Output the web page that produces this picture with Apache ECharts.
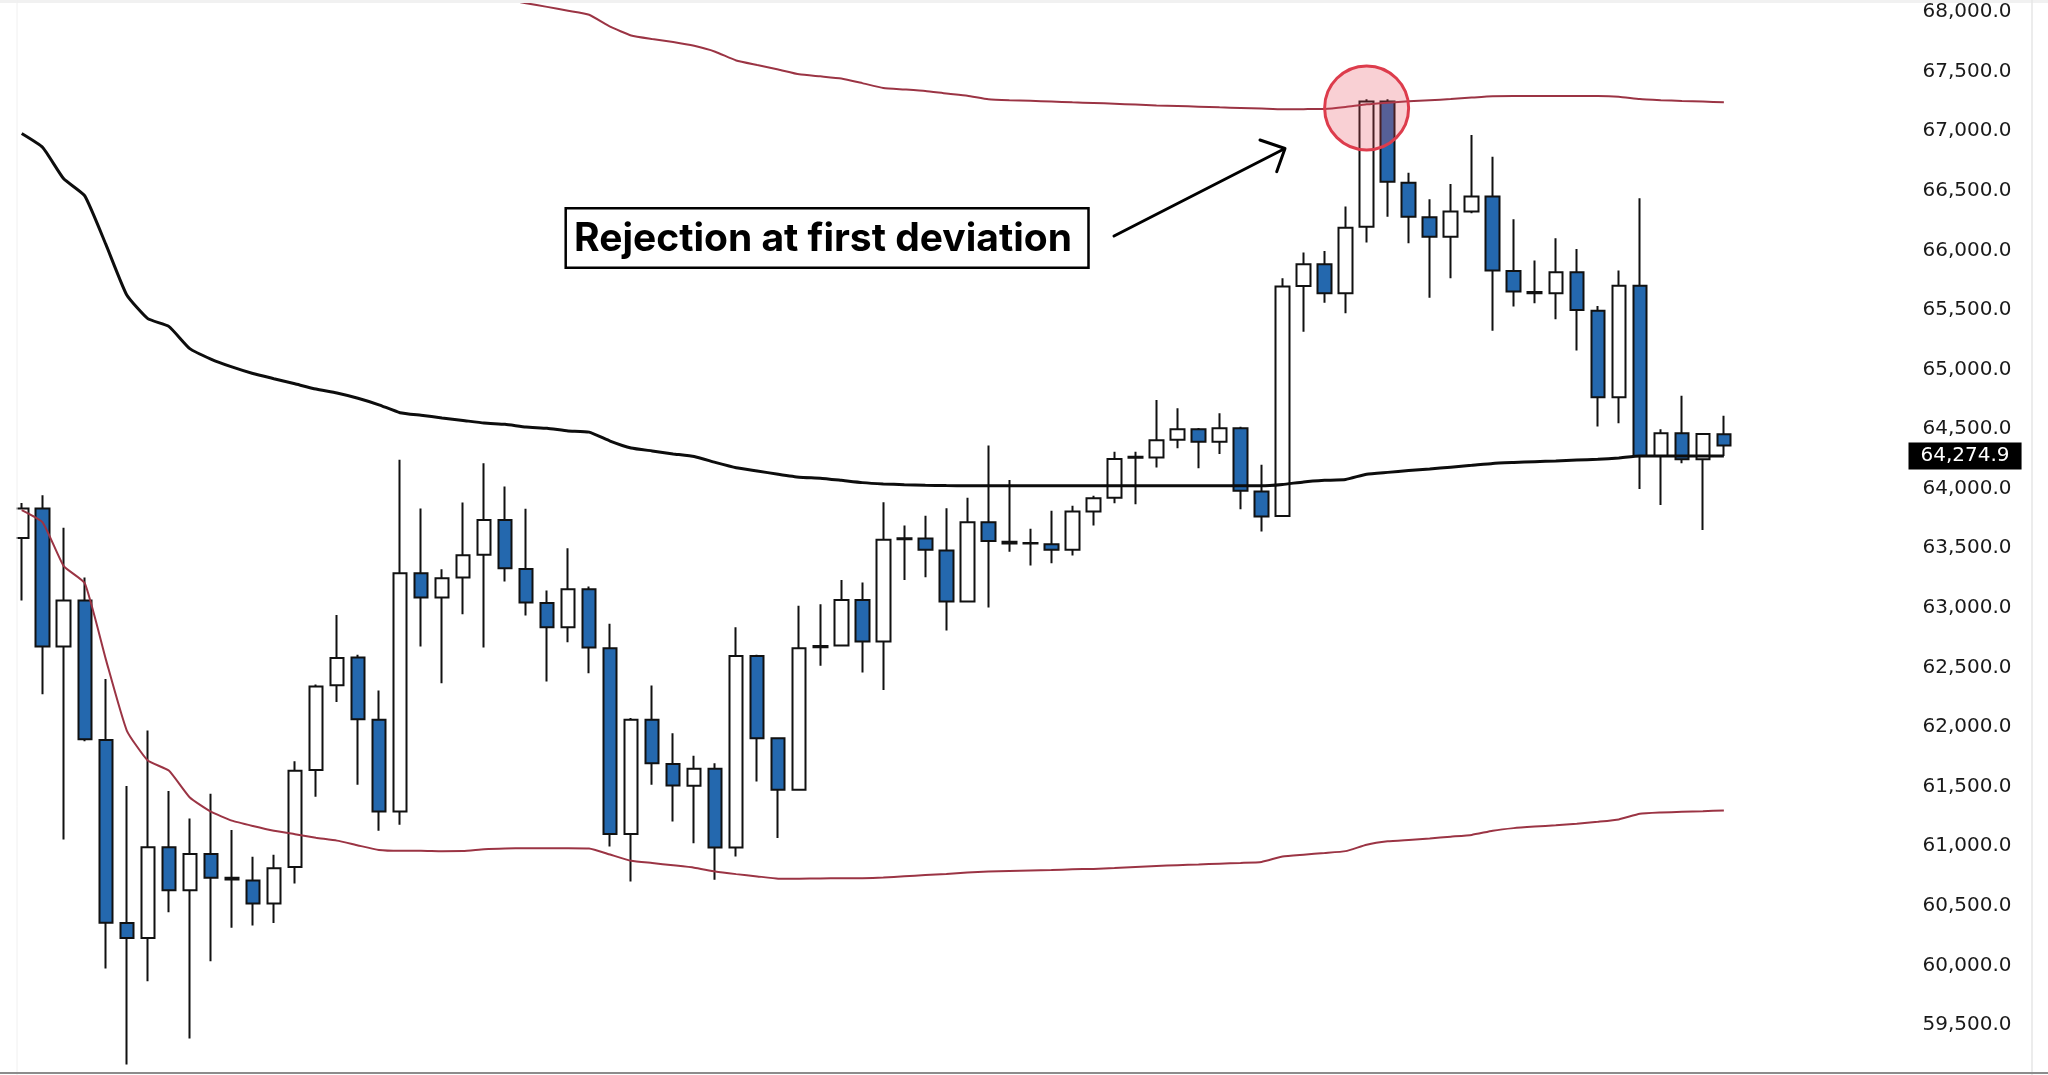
<!DOCTYPE html>
<html>
<head>
<meta charset="utf-8">
<title>Rejection at first deviation</title>
<script src="https://cdn.jsdelivr.net/npm/echarts@6.0.0/dist/echarts.min.js"></script>
<style>
  html, body { margin: 0; padding: 0; background: #fff; }
  #chart { width: 2048px; height: 1075px; }
</style>
</head>
<body>
<div id="chart"></div>
<script>
// OHLC per bar
const opens = [63586, 63833, 62677, 63062, 61891, 60356, 60231, 60992, 60630, 60934,
  60735, 60712, 60520, 60825, 61640, 62350, 62583, 62061, 61291, 63291,
  63087, 63254, 63445, 63738, 63327, 63040, 62838, 63157, 62662, 61102,
  62061, 61689, 61507, 61650, 60989, 62597, 61907, 61473, 62680, 62684,
  63067, 62718, 63575, 63582, 63481, 63053, 63719, 63555, 63540, 63534,
  63487, 63808, 63925, 64260, 64261, 64410, 64499, 64395, 64508, 63976,
  63772, 65701, 65883, 65640, 66199, 67248, 66568, 66278, 66115, 66325,
  66451, 65827, 65650, 65640, 65816, 65494, 64768, 65704, 64275, 64466,
  64248, 64457];
const highs = [63881, 63946, 63673, 63255, 62404, 61505, 61971, 61464, 61233, 61441,
  61136, 60911, 60928, 61714, 62357, 62940, 62606, 62306, 64242, 63833,
  63325, 63884, 64214, 64018, 63831, 63145, 63501, 63179, 62866, 62075,
  62348, 61949, 61759, 61697, 62838, 62606, 61915, 63017, 63031, 63235,
  63212, 63887, 63691, 63774, 63837, 63925, 64362, 64074, 63663, 63814,
  63858, 63940, 64311, 64311, 64745, 64675, 64510, 64633, 64520, 64200,
  65766, 65981, 65995, 66367, 67268, 67268, 66652, 66429, 66557, 66968,
  66786, 66261, 65914, 66102, 66012, 65534, 65830, 66437, 64499, 64779,
  64465, 64613];
const lows = [63062, 62276, 61056, 61880, 59974, 59168, 59868, 60446, 59387, 60035,
  60317, 60334, 60356, 60687, 61415, 62210, 61515, 61129, 61180, 62676,
  62368, 62947, 62667, 63221, 62936, 62382, 62712, 62452, 60998, 60704,
  61515, 61207, 61026, 60718, 60914, 61543, 61069, 61470, 62514, 62680,
  62458, 62312, 63235, 63258, 62810, 63050, 63003, 63472, 63355, 63375,
  63439, 63691, 63878, 63870, 64177, 64340, 64172, 64292, 63828, 63640,
  63766, 65318, 65561, 65472, 66065, 66283, 66060, 65603, 65766, 66311,
  65326, 65528, 65556, 65422, 65159, 64521, 64550, 63998, 63864, 64214,
  63654, 64275];
const closes = [63833, 62677, 63062, 61897, 60359, 60231, 60992, 60630, 60934, 60735,
  60720, 60520, 60816, 61634, 62340, 62580, 62066, 61291, 63291, 63087,
  63249, 63442, 63738, 63333, 63045, 62838, 63157, 62667, 61102, 62061,
  61697, 61509, 61650, 60989, 62597, 61907, 61473, 62662, 62670, 63067,
  62718, 63571, 63585, 63487, 63053, 63719, 63562, 63540, 63545, 63487,
  63808, 63920, 64250, 64268, 64407, 64499, 64395, 64508, 63982, 63766,
  65696, 65883, 65640, 66190, 67248, 66576, 66283, 66115, 66325, 66451,
  65830, 65654, 65640, 65816, 65500, 64768, 65704, 64275, 64466, 64248,
  64460, 64362];

// anchored line (black) and its deviation bands (red)
const midLine = [66980, 66863, 66600, 66457, 66052, 65625, 65427, 65362, 65175, 65088,
  65022, 64967, 64923, 64880, 64836, 64803, 64759, 64704, 64638, 64616,
  64594, 64573, 64551, 64540, 64518, 64507, 64485, 64475, 64400, 64342,
  64317, 64292, 64270, 64221, 64176, 64149, 64121, 64096, 64088, 64070,
  64051, 64040, 64034, 64029, 64026, 64024, 64024, 64024, 64024, 64024,
  64024, 64024, 64024, 64024, 64024, 64024, 64024, 64024, 64024, 64024,
  64036, 64057, 64070, 64078, 64122, 64137, 64152, 64166, 64181, 64196,
  64212, 64220, 64227, 64233, 64240, 64247, 64258, 64275, 64275, 64275,
  64275, 64274.9];
const upperBand = [null, null, null, null, null, null, null, null, null, null,
  null, null, null, null, null, null, null, null, null, null,
  null, null, null, 68110, 68073, 68043, 68010, 67977, 67877, 67803,
  67773, 67748, 67716, 67667, 67593, 67555, 67518, 67477, 67460, 67442,
  67403, 67362, 67350, 67337, 67316, 67298, 67268, 67259, 67255, 67249,
  67242, 67237, 67230, 67223, 67216, 67211, 67206, 67200, 67195, 67190,
  67184, 67185, 67186, 67203, 67225, 67239, 67251, 67260, 67269, 67282,
  67294, 67295, 67295, 67295, 67295, 67295, 67289, 67269, 67260, 67253,
  67248, 67242];
const lowerBand = [63820, 63716, 63350, 63207, 62570, 61971, 61719, 61635, 61409, 61290,
  61215, 61170, 61130, 61101, 61071, 61047, 61007, 60969, 60962, 60962,
  60958, 60959, 60975, 60982, 60983, 60983, 60984, 60982, 60930, 60878,
  60859, 60840, 60820, 60788, 60766, 60747, 60728, 60727, 60730, 60731,
  60732, 60737, 60748, 60758, 60768, 60779, 60788, 60793, 60797, 60801,
  60806, 60810, 60817, 60826, 60834, 60841, 60847, 60854, 60860, 60868,
  60914, 60929, 60943, 60959, 61012, 61041, 61053, 61065, 61080, 61095,
  61130, 61152, 61165, 61176, 61188, 61205, 61225, 61272, 61283, 61289,
  61294, 61300];

// 82 bars plus empty room on the right
const slots = Array.from({ length: 90 }, (_, i) => String(i + 1));

// rejection marker
const rejectionBar = 64;
const rejectionLevel = 67195;

const candles = opens.map((o, i) => [o, closes[i], lows[i], highs[i]]);
const fmt = v => v.toLocaleString('en-US', { minimumFractionDigits: 1, maximumFractionDigits: 1 });
const lastMid = midLine[midLine.length - 1];

const chart = echarts.init(document.getElementById('chart'));
const option = {
  animation: false,
  backgroundColor: '#ffffff',
  grid: { left: 11.2, right: 145.5, top: 12, bottom: 50, outerBoundsMode: 'none' },
  xAxis: {
    type: 'category',
    data: slots,
    show: false
  },
  yAxis: {
    type: 'value',
    position: 'right',
    min: 59500,
    max: 68000,
    interval: 500,
    axisLine: { show: false },
    axisTick: { show: false },
    splitLine: { show: false },
    axisLabel: {
      margin: 20,
      color: '#1a1a1a',
      fontFamily: 'DejaVu Sans',
      fontSize: 20,
      formatter: fmt
    }
  },
  series: [
    {
      name: 'Price',
      type: 'candlestick',
      data: candles,
      barWidth: 14,
      clip: false,
      z: 2,
      emphasis: { disabled: true },
      itemStyle: {
        color: '#ffffff',
        color0: '#2468ae',
        borderColor: '#111111',
        borderColor0: '#111111',
        borderWidth: 2
      },
      markPoint: {
        silent: true,
        symbol: 'circle',
        symbolSize: 84,
        label: { show: false },
        itemStyle: {
          color: 'rgba(232,72,88,0.26)',
          borderColor: '#dd3c4c',
          borderWidth: 3
        },
        data: [{ coord: [slots[rejectionBar], rejectionLevel] }]
      }
    },
    {
      name: 'Anchored VWAP',
      type: 'line',
      data: midLine,
      showSymbol: false,
      smooth: 0.15,
      clip: false,
      z: 3,
      emphasis: { disabled: true },
      lineStyle: { color: '#0d0d0d', width: 3 },
      markLine: {
        silent: true,
        symbol: ['none', 'none'],
        lineStyle: { color: 'rgba(0,0,0,0)', width: 0, type: 'solid' },
        label: {
          show: true,
          position: 'end',
          distance: 6,
          formatter: () => fmt(lastMid),
          backgroundColor: '#000000',
          color: '#ffffff',
          fontFamily: 'DejaVu Sans',
          fontSize: 20,
          padding: [4, 12, 3, 12]
        },
        data: [{ yAxis: lastMid }]
      }
    },
    {
      name: 'Upper deviation',
      type: 'line',
      data: upperBand,
      showSymbol: false,
      smooth: 0.15,
      clip: false,
      z: 3,
      emphasis: { disabled: true },
      lineStyle: { color: '#9b3444', width: 2 }
    },
    {
      name: 'Lower deviation',
      type: 'line',
      data: lowerBand,
      showSymbol: false,
      smooth: 0.15,
      clip: false,
      z: 3,
      emphasis: { disabled: true },
      lineStyle: { color: '#9b3444', width: 2 }
    }
  ],
  graphic: [
    // frame
    { type: 'rect', z: 100, silent: true, shape: { x: 0, y: 0, width: 16.5, height: 1075 }, style: { fill: '#ffffff' } },
    { type: 'rect', z: 100, silent: true, shape: { x: 0, y: 0, width: 2048, height: 3 }, style: { fill: '#f1f1f1' } },
    { type: 'line', z: 100, silent: true, shape: { x1: 17, y1: 0, x2: 17, y2: 1075 }, style: { stroke: '#f0f0f0', lineWidth: 1 } },
    { type: 'line', z: 100, silent: true, shape: { x1: 2032, y1: 0, x2: 2032, y2: 1075 }, style: { stroke: '#e6e6e6', lineWidth: 1.5 } },
    { type: 'line', z: 100, silent: true, shape: { x1: 0, y1: 1073, x2: 2048, y2: 1073 }, style: { stroke: '#8c8c8c', lineWidth: 2 } },
    // annotation box
    { type: 'rect', z: 110, silent: true, shape: { x: 565.7, y: 208.3, width: 522.8, height: 59.4 }, style: { fill: '#ffffff', stroke: '#000000', lineWidth: 2.5 } },
    {
      type: 'text', z: 111, silent: true, x: 823, y: 239,
      style: {
        text: 'Rejection at first deviation',
        fill: '#000000',
        fontFamily: 'Inter',
        fontWeight: 700,
        fontSize: 39,
        align: 'center',
        verticalAlign: 'middle'
      }
    },
    // arrow
    { type: 'line', z: 110, silent: true, shape: { x1: 1114, y1: 236, x2: 1284, y2: 149 }, style: { stroke: '#000000', lineWidth: 3, lineCap: 'round' } },
    { type: 'polyline', z: 110, silent: true, shape: { points: [[1260, 140], [1285, 148.5], [1276.7, 171.7]] }, style: { stroke: '#000000', lineWidth: 3, fill: null, lineJoin: 'round', lineCap: 'round' } }
  ]
};
chart.setOption(option);
window.addEventListener('resize', () => chart.resize());
</script>
</body>
</html>
